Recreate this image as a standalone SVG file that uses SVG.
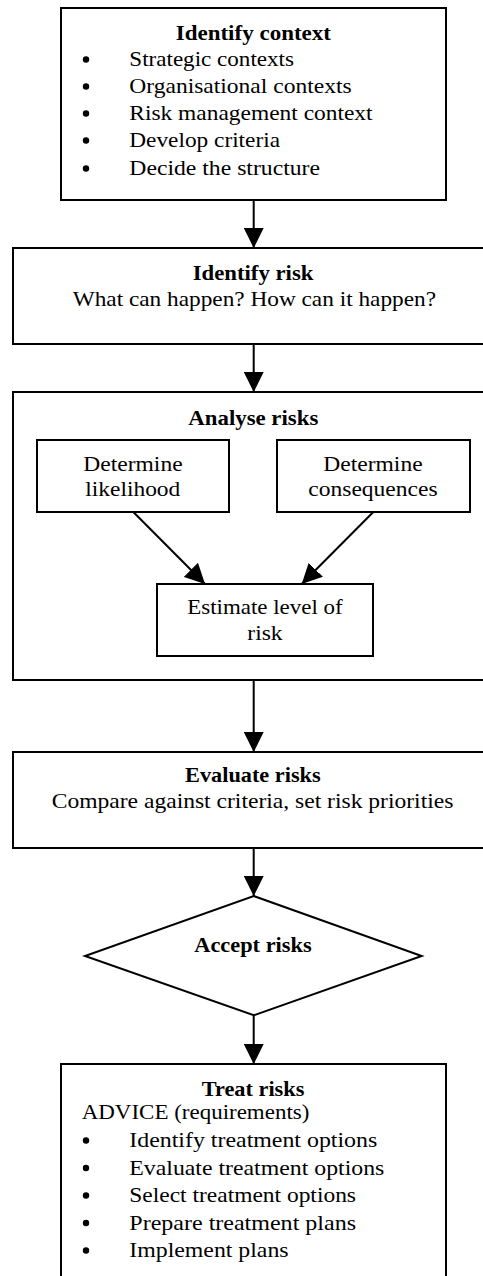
<svg xmlns="http://www.w3.org/2000/svg" width="483" height="1276" viewBox="0 0 483 1276">
<defs>
<marker id="ah" viewBox="0 0 20 20" markerWidth="20" markerHeight="20" markerUnits="userSpaceOnUse" refX="20" refY="10" orient="auto">
<path d="M0,0 L20,10 L0,20 Z" fill="#000"/>
</marker>
<style>
.box{fill:#fff;stroke:#000;stroke-width:2}
.t{font-family:"Liberation Serif","Times New Roman",serif;font-size:21px;fill:#000}
.b{font-weight:bold}
.dot{fill:#000}
.conn{stroke:#000;stroke-width:2;fill:none;marker-end:url(#ah)}
</style>
</defs>
<rect width="483" height="1276" fill="#fff"/>

<g id="identify-context">
<rect class="box" x="61" y="8" width="385" height="192"/>
<text class="t b" x="175.7" y="40" textLength="155.3" lengthAdjust="spacingAndGlyphs">Identify context</text>
<circle class="dot" cx="86" cy="59.5" r="3.2"/>
<text class="t" x="129.3" y="66" textLength="164.7" lengthAdjust="spacingAndGlyphs">Strategic contexts</text>
<circle class="dot" cx="86" cy="86.5" r="3.2"/>
<text class="t" x="129.3" y="93" textLength="222.3" lengthAdjust="spacingAndGlyphs">Organisational contexts</text>
<circle class="dot" cx="86" cy="113.5" r="3.2"/>
<text class="t" x="129.3" y="120" textLength="243.3" lengthAdjust="spacingAndGlyphs">Risk management context</text>
<circle class="dot" cx="86" cy="140.5" r="3.2"/>
<text class="t" x="129.3" y="147" textLength="150.7" lengthAdjust="spacingAndGlyphs">Develop criteria</text>
<circle class="dot" cx="86" cy="168.5" r="3.2"/>
<text class="t" x="129.3" y="175" textLength="190.7" lengthAdjust="spacingAndGlyphs">Decide the structure</text>
</g>

<g id="identify-risk">
<rect class="box" x="13" y="248" width="480" height="96"/>
<text class="t b" x="192.7" y="280" textLength="120.7" lengthAdjust="spacingAndGlyphs">Identify risk</text>
<text class="t" x="72.7" y="306" textLength="363.3" lengthAdjust="spacingAndGlyphs">What can happen? How can it happen?</text>
</g>

<g id="analyse-risks">
<rect class="box" x="13" y="392" width="480" height="288"/>
<text class="t b" x="188.3" y="425" textLength="130" lengthAdjust="spacingAndGlyphs">Analyse risks</text>
</g>

<g id="determine-likelihood">
<rect class="box" x="37" y="440" width="192" height="72"/>
<text class="t" x="83.3" y="470.5" textLength="99.3" lengthAdjust="spacingAndGlyphs">Determine</text>
<text class="t" x="85.3" y="496" textLength="95" lengthAdjust="spacingAndGlyphs">likelihood</text>
</g>

<g id="determine-consequences">
<rect class="box" x="277" y="440" width="193" height="72"/>
<text class="t" x="323.3" y="470.5" textLength="99.3" lengthAdjust="spacingAndGlyphs">Determine</text>
<text class="t" x="308.3" y="496" textLength="129.3" lengthAdjust="spacingAndGlyphs">consequences</text>
</g>

<g id="estimate-level">
<rect class="box" x="157" y="584" width="216" height="72"/>
<text class="t" x="187.3" y="614" textLength="155.3" lengthAdjust="spacingAndGlyphs">Estimate level of</text>
<text class="t" x="247.3" y="640" textLength="35.3" lengthAdjust="spacingAndGlyphs">risk</text>
</g>

<g id="evaluate-risks">
<rect class="box" x="13" y="752" width="480" height="96"/>
<text class="t b" x="185" y="781.5" textLength="135.7" lengthAdjust="spacingAndGlyphs">Evaluate risks</text>
<text class="t" x="51.7" y="808" textLength="401.7" lengthAdjust="spacingAndGlyphs">Compare against criteria, set risk priorities</text>
</g>

<g id="accept-risks">
<polygon class="box" points="253.7,896 421.7,956 253.7,1015.3 85,956"/>
<text class="t b" x="194.3" y="951.5" textLength="117.3" lengthAdjust="spacingAndGlyphs">Accept risks</text>
</g>

<g id="treat-risks">
<rect class="box" x="61" y="1064" width="385" height="240"/>
<text class="t b" x="201.7" y="1096" textLength="102.7" lengthAdjust="spacingAndGlyphs">Treat risks</text>
<text class="t" x="81.7" y="1119" textLength="227.7" lengthAdjust="spacingAndGlyphs">ADVICE (requirements)</text>
<circle class="dot" cx="86" cy="1140.5" r="3.2"/>
<text class="t" x="129.3" y="1147" textLength="248" lengthAdjust="spacingAndGlyphs">Identify treatment options</text>
<circle class="dot" cx="86" cy="1168" r="3.2"/>
<text class="t" x="129.3" y="1174.5" textLength="255" lengthAdjust="spacingAndGlyphs">Evaluate treatment options</text>
<circle class="dot" cx="86" cy="1195.5" r="3.2"/>
<text class="t" x="129.3" y="1202" textLength="226.7" lengthAdjust="spacingAndGlyphs">Select treatment options</text>
<circle class="dot" cx="86" cy="1223" r="3.2"/>
<text class="t" x="129.3" y="1229.5" textLength="226.7" lengthAdjust="spacingAndGlyphs">Prepare treatment plans</text>
<circle class="dot" cx="86" cy="1250.5" r="3.2"/>
<text class="t" x="129.3" y="1257" textLength="159.3" lengthAdjust="spacingAndGlyphs">Implement plans</text>
</g>

<g id="connectors">
<line class="conn" x1="253.7" y1="200" x2="253.7" y2="248"/>
<line class="conn" x1="253.7" y1="344" x2="253.7" y2="392"/>
<line class="conn" x1="253.7" y1="680" x2="253.7" y2="752"/>
<line class="conn" x1="253.7" y1="848" x2="253.7" y2="896"/>
<line class="conn" x1="253.7" y1="1015.3" x2="253.7" y2="1064"/>
<line class="conn" x1="133.3" y1="512" x2="205" y2="584"/>
<line class="conn" x1="373.3" y1="512" x2="301.7" y2="584"/>
</g>
</svg>
